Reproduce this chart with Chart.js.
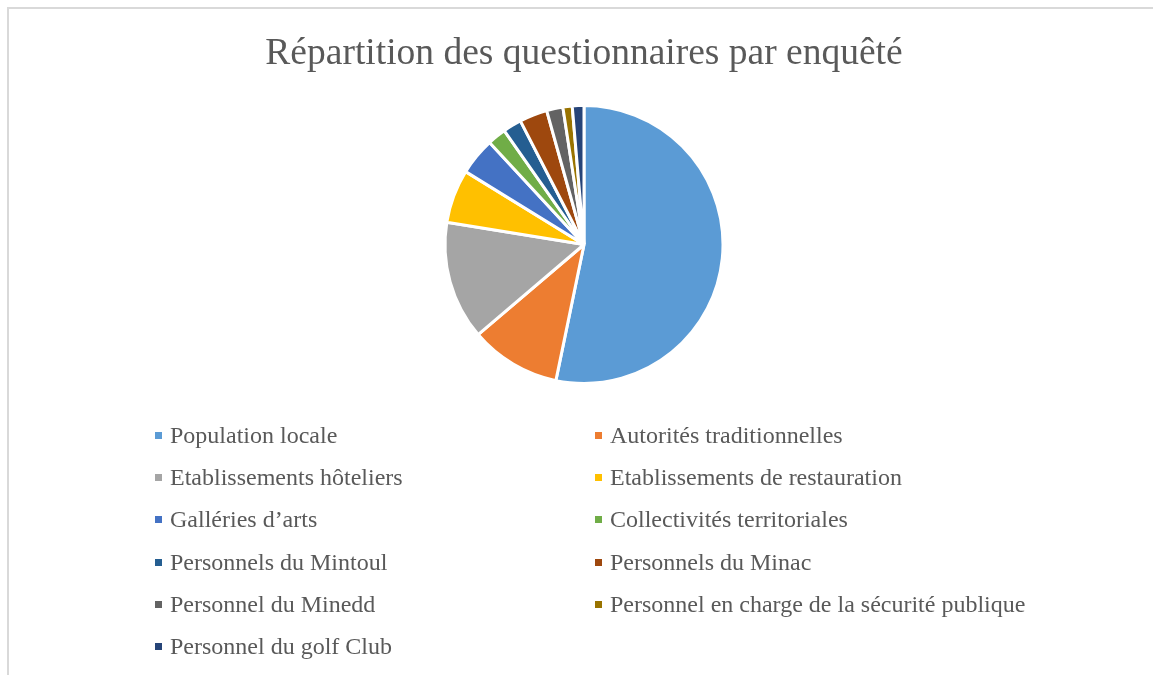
<!DOCTYPE html>
<html>
<head>
<meta charset="utf-8">
<script src="https://cdn.jsdelivr.net/npm/chart.js@4"></script>
<style>
  html, body { margin: 0; padding: 0; background: #fff; overflow: hidden; }
  #frame { position: absolute; left: 7px; top: 7px; width: 1300px; height: 800px; border: 2px solid #d9d9d9; box-sizing: border-box; }
  #wrap { position: absolute; left: 0; top: 0; width: 1153px; height: 675px; }
  #legend { position: absolute; left: 155px; top: 414px; width: 900px; font-family: 'Liberation Serif', 'Times New Roman', serif; font-size: 24px; color: #595959; }
  .item { position: absolute; white-space: nowrap; height: 42px; line-height: 42px; }
  .box { display: inline-block; width: 7px; height: 7px; margin-right: 8px; vertical-align: middle; position: relative; top: -2px; }
</style>
</head>
<body>
<div id="frame"></div>
<div id="wrap"><canvas id="chart" width="1153" height="675"></canvas></div>
<div id="legend"></div>
<script>
const title = 'Répartition des questionnaires par enquêté';

const categories = [
  'Population locale',
  'Autorités traditionnelles',
  'Etablissements hôteliers',
  'Etablissements de restauration',
  'Galléries d’arts',
  'Collectivités territoriales',
  'Personnels du Mintoul',
  'Personnels du Minac',
  'Personnel du Minedd',
  'Personnel en charge de la sécurité publique',
  'Personnel du golf Club',
];

// questionnaires per group
const counts = [197, 39, 51, 23, 16, 8, 8, 12, 7, 4, 5];

const colors = [
  '#5B9BD5', '#ED7D31', '#A5A5A5', '#FFC000', '#4472C4', '#70AD47',
  '#255E91', '#9E480E', '#636363', '#997300', '#264478',
];

const chart = new Chart(document.getElementById('chart'), {
  type: 'pie',
  data: {
    labels: categories,
    datasets: [{
      data: counts,
      backgroundColor: colors,
      borderColor: '#ffffff',
      borderWidth: 3,
    }],
  },
  options: {
    responsive: false,
    animation: false,
    layout: { padding: { left: 15, bottom: 290 } },
    plugins: {
      legend: { display: false },
      tooltip: { enabled: false },
      title: {
        display: true,
        text: title,
        color: '#595959',
        font: { family: 'Liberation Serif', size: 37.5, weight: 'normal' },
        padding: { top: 32, bottom: 27 },
      },
    },
  },
});

// two-column legend built from the same arrays
const legend = document.getElementById('legend');
categories.forEach((name, i) => {
  const el = document.createElement('div');
  el.className = 'item';
  el.style.left = (i % 2 === 0 ? 0 : 440) + 'px';
  el.style.top = (Math.floor(i / 2) * 42.2) + 'px';
  el.innerHTML = `<span class="box" style="background:${colors[i]}"></span>${name}`;
  legend.appendChild(el);
});
</script>
</body>
</html>
